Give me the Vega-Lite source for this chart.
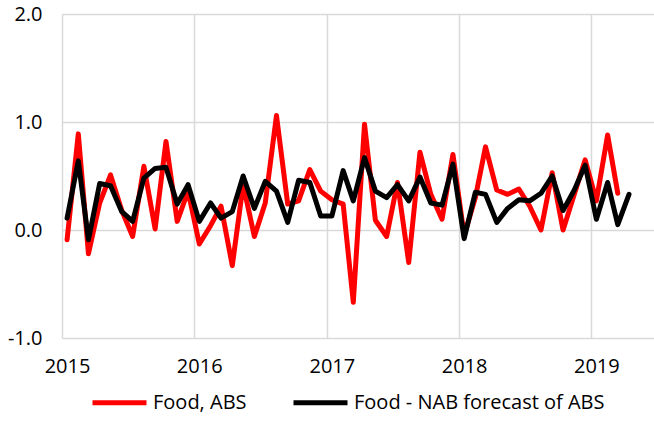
{
  "$schema": "https://vega.github.io/schema/vega-lite/v6.json",
  "width": 592,
  "height": 324,
  "autosize": {"type": "none"},
  "padding": {"left": 62, "top": 14, "right": 0, "bottom": 83},
  "background": "white",
  "config": {
    "view": {"stroke": null},
    "font": "Open Sans",
    "axis": {"labelFont": "Open Sans", "labelFontSize": 20, "labelColor": "#000000"},
    "legend": {"labelFont": "Open Sans", "labelFontSize": 20, "labelColor": "#000000", "labelLimit": 400}
  },
  "data": {
    "values": [
      {"date": "2015-01-15", "series": "Food, ABS", "value": -0.09},
      {"date": "2015-02-15", "series": "Food, ABS", "value": 0.89},
      {"date": "2015-03-15", "series": "Food, ABS", "value": -0.22},
      {"date": "2015-04-15", "series": "Food, ABS", "value": 0.25},
      {"date": "2015-05-15", "series": "Food, ABS", "value": 0.51},
      {"date": "2015-06-15", "series": "Food, ABS", "value": 0.18},
      {"date": "2015-07-15", "series": "Food, ABS", "value": -0.06},
      {"date": "2015-08-15", "series": "Food, ABS", "value": 0.59},
      {"date": "2015-09-15", "series": "Food, ABS", "value": 0.01},
      {"date": "2015-10-15", "series": "Food, ABS", "value": 0.82},
      {"date": "2015-11-15", "series": "Food, ABS", "value": 0.08},
      {"date": "2015-12-15", "series": "Food, ABS", "value": 0.36},
      {"date": "2016-01-15", "series": "Food, ABS", "value": -0.13},
      {"date": "2016-02-15", "series": "Food, ABS", "value": 0.04},
      {"date": "2016-03-15", "series": "Food, ABS", "value": 0.22},
      {"date": "2016-04-15", "series": "Food, ABS", "value": -0.33},
      {"date": "2016-05-15", "series": "Food, ABS", "value": 0.42},
      {"date": "2016-06-15", "series": "Food, ABS", "value": -0.06},
      {"date": "2016-07-15", "series": "Food, ABS", "value": 0.25},
      {"date": "2016-08-15", "series": "Food, ABS", "value": 1.06},
      {"date": "2016-09-15", "series": "Food, ABS", "value": 0.24},
      {"date": "2016-10-15", "series": "Food, ABS", "value": 0.27},
      {"date": "2016-11-15", "series": "Food, ABS", "value": 0.56},
      {"date": "2016-12-15", "series": "Food, ABS", "value": 0.36},
      {"date": "2017-01-15", "series": "Food, ABS", "value": 0.28},
      {"date": "2017-02-15", "series": "Food, ABS", "value": 0.24},
      {"date": "2017-03-15", "series": "Food, ABS", "value": -0.67},
      {"date": "2017-04-15", "series": "Food, ABS", "value": 0.98},
      {"date": "2017-05-15", "series": "Food, ABS", "value": 0.09},
      {"date": "2017-06-15", "series": "Food, ABS", "value": -0.06},
      {"date": "2017-07-15", "series": "Food, ABS", "value": 0.44},
      {"date": "2017-08-15", "series": "Food, ABS", "value": -0.30},
      {"date": "2017-09-15", "series": "Food, ABS", "value": 0.72},
      {"date": "2017-10-15", "series": "Food, ABS", "value": 0.33},
      {"date": "2017-11-15", "series": "Food, ABS", "value": 0.10},
      {"date": "2017-12-15", "series": "Food, ABS", "value": 0.70},
      {"date": "2018-01-15", "series": "Food, ABS", "value": -0.05},
      {"date": "2018-02-15", "series": "Food, ABS", "value": 0.30},
      {"date": "2018-03-15", "series": "Food, ABS", "value": 0.77},
      {"date": "2018-04-15", "series": "Food, ABS", "value": 0.37},
      {"date": "2018-05-15", "series": "Food, ABS", "value": 0.33},
      {"date": "2018-06-15", "series": "Food, ABS", "value": 0.38},
      {"date": "2018-07-15", "series": "Food, ABS", "value": 0.22},
      {"date": "2018-08-15", "series": "Food, ABS", "value": 0.00},
      {"date": "2018-09-15", "series": "Food, ABS", "value": 0.53},
      {"date": "2018-10-15", "series": "Food, ABS", "value": 0.00},
      {"date": "2018-11-15", "series": "Food, ABS", "value": 0.33},
      {"date": "2018-12-15", "series": "Food, ABS", "value": 0.65},
      {"date": "2019-01-15", "series": "Food, ABS", "value": 0.27},
      {"date": "2019-02-15", "series": "Food, ABS", "value": 0.88},
      {"date": "2019-03-15", "series": "Food, ABS", "value": 0.34},
      {"date": "2015-01-15", "series": "Food - NAB forecast of ABS", "value": 0.11},
      {"date": "2015-02-15", "series": "Food - NAB forecast of ABS", "value": 0.64},
      {"date": "2015-03-15", "series": "Food - NAB forecast of ABS", "value": -0.09},
      {"date": "2015-04-15", "series": "Food - NAB forecast of ABS", "value": 0.43},
      {"date": "2015-05-15", "series": "Food - NAB forecast of ABS", "value": 0.41},
      {"date": "2015-06-15", "series": "Food - NAB forecast of ABS", "value": 0.17},
      {"date": "2015-07-15", "series": "Food - NAB forecast of ABS", "value": 0.08},
      {"date": "2015-08-15", "series": "Food - NAB forecast of ABS", "value": 0.48},
      {"date": "2015-09-15", "series": "Food - NAB forecast of ABS", "value": 0.57},
      {"date": "2015-10-15", "series": "Food - NAB forecast of ABS", "value": 0.58},
      {"date": "2015-11-15", "series": "Food - NAB forecast of ABS", "value": 0.24},
      {"date": "2015-12-15", "series": "Food - NAB forecast of ABS", "value": 0.42},
      {"date": "2016-01-15", "series": "Food - NAB forecast of ABS", "value": 0.08},
      {"date": "2016-02-15", "series": "Food - NAB forecast of ABS", "value": 0.25},
      {"date": "2016-03-15", "series": "Food - NAB forecast of ABS", "value": 0.11},
      {"date": "2016-04-15", "series": "Food - NAB forecast of ABS", "value": 0.17},
      {"date": "2016-05-15", "series": "Food - NAB forecast of ABS", "value": 0.50},
      {"date": "2016-06-15", "series": "Food - NAB forecast of ABS", "value": 0.20},
      {"date": "2016-07-15", "series": "Food - NAB forecast of ABS", "value": 0.45},
      {"date": "2016-08-15", "series": "Food - NAB forecast of ABS", "value": 0.36},
      {"date": "2016-09-15", "series": "Food - NAB forecast of ABS", "value": 0.07},
      {"date": "2016-10-15", "series": "Food - NAB forecast of ABS", "value": 0.46},
      {"date": "2016-11-15", "series": "Food - NAB forecast of ABS", "value": 0.44},
      {"date": "2016-12-15", "series": "Food - NAB forecast of ABS", "value": 0.13},
      {"date": "2017-01-15", "series": "Food - NAB forecast of ABS", "value": 0.13},
      {"date": "2017-02-15", "series": "Food - NAB forecast of ABS", "value": 0.55},
      {"date": "2017-03-15", "series": "Food - NAB forecast of ABS", "value": 0.27},
      {"date": "2017-04-15", "series": "Food - NAB forecast of ABS", "value": 0.67},
      {"date": "2017-05-15", "series": "Food - NAB forecast of ABS", "value": 0.36},
      {"date": "2017-06-15", "series": "Food - NAB forecast of ABS", "value": 0.30},
      {"date": "2017-07-15", "series": "Food - NAB forecast of ABS", "value": 0.42},
      {"date": "2017-08-15", "series": "Food - NAB forecast of ABS", "value": 0.27},
      {"date": "2017-09-15", "series": "Food - NAB forecast of ABS", "value": 0.49},
      {"date": "2017-10-15", "series": "Food - NAB forecast of ABS", "value": 0.25},
      {"date": "2017-11-15", "series": "Food - NAB forecast of ABS", "value": 0.23},
      {"date": "2017-12-15", "series": "Food - NAB forecast of ABS", "value": 0.61},
      {"date": "2018-01-15", "series": "Food - NAB forecast of ABS", "value": -0.08},
      {"date": "2018-02-15", "series": "Food - NAB forecast of ABS", "value": 0.35},
      {"date": "2018-03-15", "series": "Food - NAB forecast of ABS", "value": 0.33},
      {"date": "2018-04-15", "series": "Food - NAB forecast of ABS", "value": 0.07},
      {"date": "2018-05-15", "series": "Food - NAB forecast of ABS", "value": 0.20},
      {"date": "2018-06-15", "series": "Food - NAB forecast of ABS", "value": 0.28},
      {"date": "2018-07-15", "series": "Food - NAB forecast of ABS", "value": 0.27},
      {"date": "2018-08-15", "series": "Food - NAB forecast of ABS", "value": 0.34},
      {"date": "2018-09-15", "series": "Food - NAB forecast of ABS", "value": 0.50},
      {"date": "2018-10-15", "series": "Food - NAB forecast of ABS", "value": 0.18},
      {"date": "2018-11-15", "series": "Food - NAB forecast of ABS", "value": 0.37},
      {"date": "2018-12-15", "series": "Food - NAB forecast of ABS", "value": 0.60},
      {"date": "2019-01-15", "series": "Food - NAB forecast of ABS", "value": 0.10},
      {"date": "2019-02-15", "series": "Food - NAB forecast of ABS", "value": 0.44},
      {"date": "2019-03-15", "series": "Food - NAB forecast of ABS", "value": 0.05},
      {"date": "2019-04-15", "series": "Food - NAB forecast of ABS", "value": 0.33}
    ]
  },
  "encoding": {
    "x": {
      "field": "date",
      "type": "temporal",
      "scale": {
        "type": "utc",
        "domain": [
          {"year": 2015, "month": 1, "date": 1, "utc": true},
          {"year": 2019, "month": 6, "date": 23, "utc": true}
        ]
      },
      "axis": {
        "title": null,
        "format": "%Y",
        "values": [
          {"year": 2015, "month": 1, "date": 1, "utc": true},
          {"year": 2016, "month": 1, "date": 1, "utc": true},
          {"year": 2017, "month": 1, "date": 1, "utc": true},
          {"year": 2018, "month": 1, "date": 1, "utc": true},
          {"year": 2019, "month": 1, "date": 1, "utc": true}
        ],
        "grid": true,
        "gridColor": "#d9d9d9",
        "gridWidth": 1.5,
        "domain": false,
        "ticks": false,
        "labelFlush": false,
        "labelOverlap": false,
        "labelPadding": 18,
        "labelOffset": 5
      }
    },
    "y": {
      "field": "value",
      "type": "quantitative",
      "scale": {"domain": [-1, 2], "nice": false, "zero": false},
      "axis": {
        "title": null,
        "values": [-1, 0, 1, 2],
        "labelExpr": "datum.value < 0 ? '-' + format(-datum.value, '.1f') : format(datum.value, '.1f')",
        "grid": true,
        "gridColor": "#d9d9d9",
        "gridWidth": 1.5,
        "domain": false,
        "ticks": false,
        "labelFlush": false,
        "labelPadding": 20
      }
    },
    "color": {
      "field": "series",
      "type": "nominal",
      "scale": {
        "domain": ["Food, ABS", "Food - NAB forecast of ABS"],
        "range": ["#ff0000", "#000000"]
      },
      "legend": {
        "title": null,
        "orient": "none",
        "direction": "horizontal",
        "legendX": 28,
        "legendY": 359,
        "symbolType": "stroke",
        "symbolSize": 2916,
        "symbolStrokeWidth": 5,
        "labelOffset": 4,
        "columnPadding": 36
      }
    }
  },
  "layer": [
    {
      "transform": [{"filter": "datum.series === 'Food, ABS'"}],
      "mark": {"type": "line", "strokeWidth": 5, "strokeJoin": "round", "strokeCap": "round"}
    },
    {
      "transform": [{"filter": "datum.series === 'Food - NAB forecast of ABS'"}],
      "mark": {"type": "line", "strokeWidth": 5, "strokeJoin": "round", "strokeCap": "round"}
    }
  ]
}
